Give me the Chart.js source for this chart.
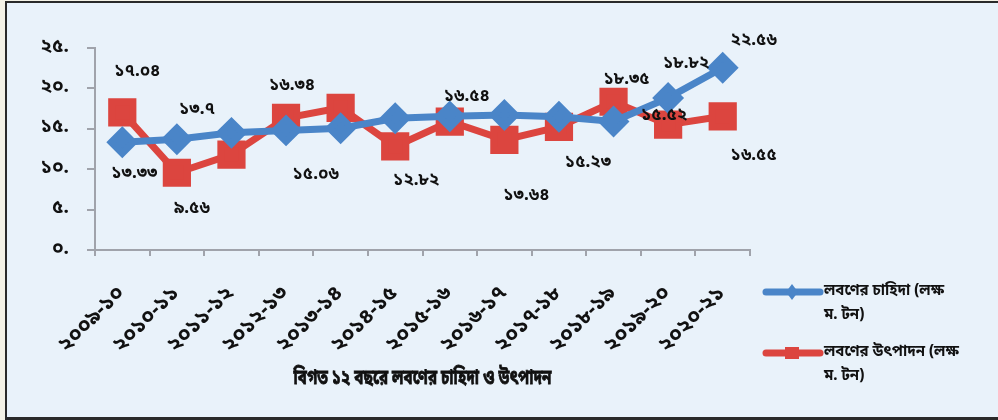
<!DOCTYPE html>
<html>
<head>
<meta charset="utf-8">
<script src="https://cdn.jsdelivr.net/npm/chart.js@4.4.0/dist/chart.umd.min.js"></script>
<style>
  html, body { margin: 0; padding: 0; }
  body { width: 998px; height: 420px; background: #f4f2e6; position: relative; overflow: hidden; }
  #frame {
    position: absolute; left: 5px; top: 1px; width: 993px; height: 414px;
    background: #e9f2fa;
    border-left: 2px solid #2a2a2a; border-top: 2px solid #2a2a2a; border-bottom: 3px solid #2a2a2a;
  }
  #wrap { position: absolute; left: 0; top: 0; width: 998px; height: 420px; }
</style>
</head>
<body>
<div id="frame"></div>
<div id="wrap"><canvas id="saltChart" width="998" height="420"></canvas></div>
<script>
// DATA
const years = [
    "২০০৯-১০", "২০১০-১১", "২০১১-১২", "২০১২-১৩", "২০১৩-১৪", "২০১৪-১৫",
    "২০১৫-১৬", "২০১৬-১৭", "২০১৭-১৮", "২০১৮-১৯", "২০১৯-২০", "২০২০-২১"
];
const demand = [13.33, 13.7, 14.5, 14.8, 15.06, 16.3, 16.54, 16.7, 16.5, 15.9, 18.82, 22.56];
const production = [17.04, 9.56, 11.8, 16.34, 17.6, 12.82, 15.9, 13.64, 15.23, 18.35, 15.52, 16.55];
const yTicks = [0, 5, 10, 15, 20, 25];

const demandName = ["লবণের চাহিদা (লক্ষ", "ম. টন)"];
const productionName = ["লবণের উৎপাদন (লক্ষ", "ম. টন)"];
const chartTitle = "বিগত ১২ বছরে লবণের চাহিদা ও উৎপাদন";

// label placement (dx, dy from the point), null = no label
const demandLabelPos = [[12, 32], [20, -29], null, null, [-25, 47], null, [17, -19], null, null, null, [18, -33], [31, -26]];
const productionLabelPos = [[15, -40], [15, 37], null, [6, -31], null, [21, 35], null, [22, 57], [29, 37], [13, -21], [-4, -8], [31, 40]];

const BLUE = "#4a85c8";
const RED = "#dc453f";
const FONT = "'Noto Sans Bengali', 'Noto Sans', sans-serif";

function toBn(v) {
    return String(v).replace(/\d/g, d => "০১২৩৪৫৬৭৮৯"[d]);
}

// data labels, legend and title
const decor = {
    id: "decor",
    afterDatasetsDraw(chart) {
        const ctx = chart.ctx;
        ctx.save();
        ctx.fillStyle = "#111";
        ctx.font = "bold 17px " + FONT;
        ctx.textAlign = "center";
        ctx.textBaseline = "middle";

        const positions = [demandLabelPos, productionLabelPos];
        chart.data.datasets.forEach((ds, i) => {
            const meta = chart.getDatasetMeta(i);
            meta.data.forEach((pt, j) => {
                const p = positions[i][j];
                if (!p) return;
                ctx.fillText(toBn(ds.data[j]), pt.x + p[0], pt.y + p[1]);
            });
        });

        // legend
        const items = [
            { color: BLUE, name: demandName, y: 292, style: "rectRot" },
            { color: RED, name: productionName, y: 353, style: "rect" }
        ];
        ctx.textAlign = "left";
        ctx.font = "bold 15px " + FONT;
        items.forEach(it => {
            ctx.strokeStyle = it.color;
            ctx.lineWidth = 7;
            ctx.lineCap = "round";
            ctx.beginPath();
            ctx.moveTo(766, it.y);
            ctx.lineTo(820, it.y);
            ctx.stroke();
            ctx.fillStyle = it.color;
            if (it.style === "rect") {
                ctx.fillRect(785, it.y - 6, 14, 12);
            } else {
                ctx.beginPath();
                ctx.moveTo(792, it.y - 8);
                ctx.lineTo(798, it.y);
                ctx.lineTo(792, it.y + 8);
                ctx.lineTo(786, it.y);
                ctx.closePath();
                ctx.fill();
            }
            ctx.fillStyle = "#111";
            ctx.fillText(it.name[0], 824, it.y);
            ctx.fillText(it.name[1], 824, it.y + 24);
        });

        // title under the axis, condensed like the original face
        const area = chart.chartArea;
        ctx.textAlign = "center";
        ctx.font = "bold 21px " + FONT;
        const w = ctx.measureText(chartTitle).width;
        const sx = Math.min(1, 258 / w);
        ctx.translate((area.left + area.right) / 2, 380);
        ctx.scale(sx, 1);
        ctx.strokeStyle = "#111";
        ctx.lineWidth = 0.8;
        ctx.fillText(chartTitle, 0, 0);
        ctx.strokeText(chartTitle, 0, 0);
        ctx.restore();
    }
};

const ctx = document.getElementById("saltChart").getContext("2d");

const saltChart = new Chart(ctx, {
    type: "line",
    data: {
        labels: years,
        datasets: [
            {
                label: demandName.join(" "),
                data: demand,
                borderColor: BLUE,
                backgroundColor: BLUE,
                borderWidth: 7,
                pointStyle: "rectRot",
                pointRadius: 11,
                pointHoverRadius: 11,
                tension: 0
            },
            {
                label: productionName.join(" "),
                data: production,
                borderColor: RED,
                backgroundColor: RED,
                borderWidth: 7,
                pointStyle: "rect",
                pointRadius: 15,
                pointHoverRadius: 15,
                tension: 0
            }
        ]
    },
    options: {
        responsive: false,
        animation: false,
        layout: {
            padding: { left: 10, right: 248, top: 48, bottom: 0 }
        },
        plugins: {
            legend: { display: false },
            title: { display: false },
            tooltip: { enabled: false }
        },
        scales: {
            x: {
                offset: true,
                grid: {
                    offset: true,
                    drawOnChartArea: false,
                    color: "#a0a3ab",
                    tickLength: 6,
                    lineWidth: 2
                },
                border: { color: "#a0a3ab", width: 2 },
                ticks: {
                    minRotation: 45,
                    maxRotation: 45,
                    padding: 26,
                    color: "#111",
                    font: { family: FONT, size: 21, weight: "bold" }
                },
                afterFit(scale) { scale.height = 170; }
            },
            y: {
                min: 0,
                max: 25,
                afterBuildTicks(scale) {
                    scale.ticks = yTicks.map(v => ({ value: v }));
                },
                grid: {
                    drawOnChartArea: false,
                    color: "#a0a3ab",
                    tickLength: 8,
                    lineWidth: 2
                },
                border: { color: "#a0a3ab", width: 2 },
                ticks: {
                    padding: 18,
                    color: "#111",
                    font: { family: FONT, size: 19, weight: "bold" },
                    callback: v => toBn(v) + "."
                },
                afterFit(scale) { scale.width = 85; }
            }
        }
    },
    plugins: [decor]
});
</script>
</body>
</html>
